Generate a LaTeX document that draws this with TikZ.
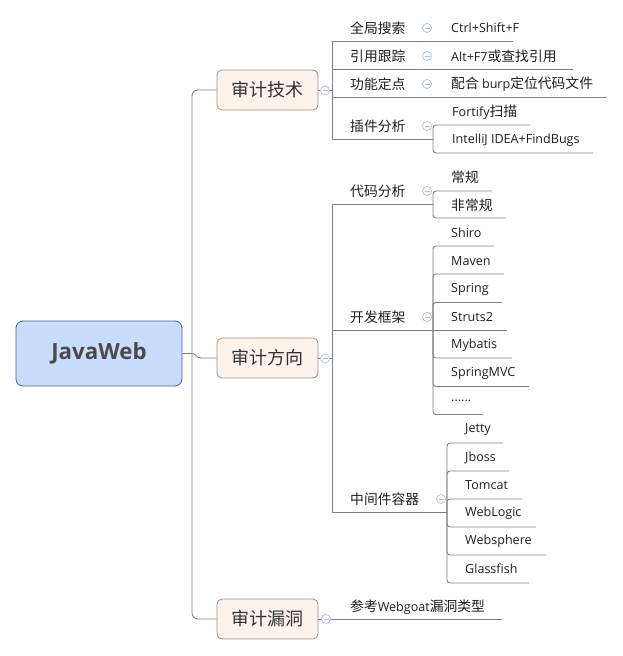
\documentclass[tikz,border=0pt]{standalone}
\usepackage{fontspec}
\setmainfont{Open Sans}[Scale=0.91]
\newfontfamily\cjk{Noto Sans CJK SC}
\newcommand\zh[1]{{\cjk #1}}
\definecolor{rootf}{HTML}{C9DCFB}
\definecolor{rootb}{HTML}{41609A}
\definecolor{roott}{HTML}{4A4A4A}
\definecolor{mainf}{HTML}{FDF3EA}
\definecolor{mainb}{HTML}{9E918A}
\definecolor{maint}{HTML}{333333}
\definecolor{linec}{HTML}{808080}
\definecolor{togc}{HTML}{A9BDE5}
\definecolor{lblt}{HTML}{1E1E1E}
\begin{document}
\begin{tikzpicture}[x=1pt,y=-1pt,
  conn/.style={draw=linec, line width=0.9pt},
  brk/.style={conn, rounded corners=3pt},
  rootnode/.style={draw=rootb, fill=rootf, line width=0.8pt, rounded corners=7pt, minimum width=166pt, minimum height=65pt, inner sep=0pt, text=roott, font=\fontsize{24.5}{28}\selectfont\bfseries},
  mainnode/.style={draw=mainb, fill=mainf, line width=0.8pt, rounded corners=5pt, minimum width=101pt, minimum height=40pt, inner sep=0pt, text=maint, font=\cjk\fontsize{18}{22}\selectfont},
  lbl/.style={anchor=west, inner sep=0pt, text=lblt, font=\fontsize{13.8}{16}\selectfont},
  tog/.style={circle, draw=togc, fill=white, line width=0.7pt, minimum size=9pt, inner sep=0pt,
    path picture={\draw[togc, line width=0.7pt] ([xshift=-2.5pt]path picture bounding box.center) -- ([xshift=2.5pt]path picture bounding box.center);}}
]
\useasboundingbox (0,0) rectangle (623,656);

% main nodes
\node[rootnode] (root) at (99,353.5) {JavaWeb};
\node[mainnode] (t1) at (267.5,90) {审计技术};
\node[mainnode] (t2) at (267.5,358) {审计方向};
\node[mainnode] (t3) at (267.5,619) {审计漏洞};

% junction coordinates
\coordinate (j1) at (332,90);
\coordinate (j2) at (332,358);
\coordinate (j14) at (433,139);
\coordinate (j21) at (433,204);
\coordinate (j22) at (433,330);
\coordinate (j23) at (447,512);

% trunk
\draw[conn, rounded corners=6pt] (t1.west) -| (192,358) |- (t3.west);
\draw[conn] (root.east) -- (192,353.5) .. controls (196,353.5) and (196,358) .. (201,358) -- (t2.west);

% branch 1
\draw[conn] (t1.east) -- (j1);
\draw[conn] (j1) |- (513,41);
\draw[conn] (j1) |- (573,69);
\draw[conn] (j1) |- (607,97);
\draw[conn] (j1) |- (j14);
\draw[brk] (j14) |- (530,125);
\draw[brk] (j14) |- (593,153);

% branch 2
\draw[conn] (t2.east) -- (j2);
\draw[conn] (j2) |- (j21);
\draw[conn] (j2) |- (j22);
\draw[conn] (j2) |- (j23);
\draw[brk] (j21) |- (492,191);
\draw[brk] (j21) |- (506,218);
\draw[brk] (j22) |- (494,246);
\draw[brk] (j22) |- (504,274);
\draw[brk] (j22) |- (502,302.5);
\draw[conn] (j22) -- (507,330);
\draw[brk] (j22) |- (512,358);
\draw[brk] (j22) |- (529,386.5);
\draw[brk] (j22) |- (483,414.5);
\draw[brk] (j23) |- (503,443);
\draw[brk] (j23) |- (509,471);
\draw[brk] (j23) |- (522,499);
\draw[brk] (j23) |- (536,527);
\draw[brk] (j23) |- (546,555);
\draw[brk] (j23) |- (529,583);

% branch 3
\draw[conn] (t3.east) -- (502,619);

% toggles
\node[tog] (g1) at (325,90.5) {};
\node[tog] (g2) at (325,358.5) {};
\node[tog] (g3) at (326,619) {};
\node[tog] (g11) at (427,28) {};
\node[tog] (g12) at (427,56) {};
\node[tog] (g13) at (427,84) {};
\node[tog] (g14) at (427,126) {};
\node[tog] (g21) at (427,191) {};
\node[tog] (g22) at (427,317) {};
\node[tog] (g23) at (441,499) {};

% level 2 labels
\node[lbl] (s11) at (350,28) {\zh{全局搜索}};
\node[lbl] (s12) at (350,56) {\zh{引用跟踪}};
\node[lbl] (s13) at (350,84) {\zh{功能定点}};
\node[lbl] (s14) at (350,126) {\zh{插件分析}};
\node[lbl] (s21) at (350,191) {\zh{代码分析}};
\node[lbl] (s22) at (350,317) {\zh{开发框架}};
\node[lbl] (s23) at (350,499) {\zh{中间件容器}};
\node[lbl] (s31) at (350,607) {\zh{参考}Webgoat\zh{漏洞类型}};

% leaves
\node[lbl] (l111) at (451,28) {Ctrl+Shift+F};
\node[lbl] (l121) at (451,56) {Alt+F7\zh{或查找引用}};
\node[lbl] (l131) at (451,84) {\zh{配合} burp\zh{定位代码文件}};
\node[lbl] (l141) at (452,112) {Fortify\zh{扫描}};
\node[lbl] (l142) at (452,140) {IntelliJ IDEA+FindBugs};
\node[lbl] (l211) at (451,177) {\zh{常规}};
\node[lbl] (l212) at (451,205) {\zh{非常规}};
\node[lbl] (l221) at (451,233) {Shiro};
\node[lbl] (l222) at (451,261) {Maven};
\node[lbl] (l223) at (451,289) {Spring};
\node[lbl] (l224) at (451,317) {Struts2};
\node[lbl] (l225) at (451,345) {Mybatis};
\node[lbl] (l226) at (451,373) {SpringMVC};
\node[lbl] (l227) at (451,401) {......};
\node[lbl] (l231) at (465,430) {Jetty};
\node[lbl] (l232) at (465,457.5) {Jboss};
\node[lbl] (l233) at (465,485) {Tomcat};
\node[lbl] (l234) at (465,513) {WebLogic};
\node[lbl] (l235) at (465,541) {Websphere};
\node[lbl] (l236) at (465,569) {Glassfish};
\end{tikzpicture}
\end{document}
